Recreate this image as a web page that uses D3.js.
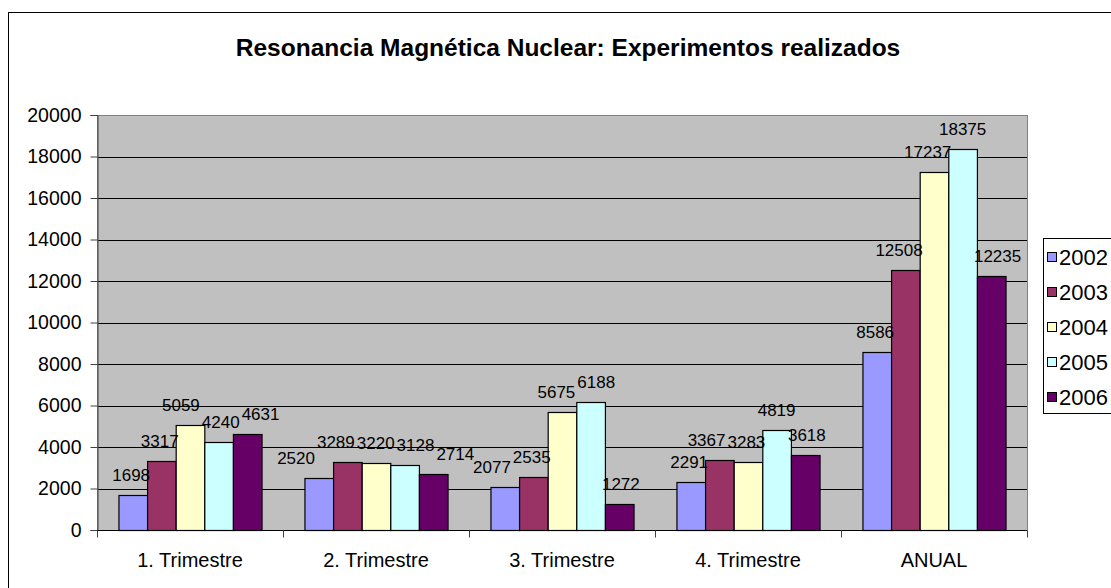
<!DOCTYPE html>
<html>
<head>
<meta charset="utf-8">
<script src="https://cdn.jsdelivr.net/npm/d3@7/dist/d3.min.js"></script>
<style>
  html, body { margin: 0; padding: 0; background: #fff; overflow: hidden; }
  svg { display: block; font-family: "Liberation Sans", Arial, sans-serif; }
</style>
</head>
<body>
<svg id="chart" width="1111" height="588"></svg>
<script>
const categories = ["1. Trimestre", "2. Trimestre", "3. Trimestre", "4. Trimestre", "ANUAL"];
const years = ["2002", "2003", "2004", "2005", "2006"];
const v2002 = [1698, 2520, 2077, 2291, 8586];
const v2003 = [3317, 3289, 2535, 3367, 12508];
const v2004 = [5059, 3220, 5675, 3283, 17237];
const v2005 = [4240, 3128, 6188, 4819, 18375];
const v2006 = [4631, 2714, 1272, 3618, 12235];
const yTicks = [0, 2000, 4000, 6000, 8000, 10000, 12000, 14000, 16000, 18000, 20000];
const colors = ["#9999FF", "#993366", "#FFFFCC", "#CCFFFF", "#660066"];
const titleText = "Resonancia Magnética Nuclear: Experimentos realizados";

const seriesValues = [v2002, v2003, v2004, v2005, v2006];
const data = categories.map((c, i) => ({
  cat: c,
  vals: years.map((y, j) => ({ year: y, value: seriesValues[j][i], color: colors[j] }))
}));

const svg = d3.select("#chart");

// outer chart border (extends beyond the window)
svg.append("rect").attr("x", 8.5).attr("y", 12.5).attr("width", 1300).attr("height", 800)
  .attr("fill", "#fff").attr("stroke", "#000").attr("stroke-width", 1);

const plot = { left: 97, right: 1027, top: 115, bottom: 530 };

const x = d3.scaleBand().domain(categories).range([plot.left, plot.right]).paddingInner(0).paddingOuter(0);
const xs = d3.scaleBand().domain(years).range([0, x.bandwidth()]).paddingInner(0).paddingOuter(0.75);
const y = d3.scaleLinear().domain([0, 20000]).range([plot.bottom, plot.top]);

// plot background
svg.append("rect")
  .attr("x", plot.left).attr("y", plot.top)
  .attr("width", plot.right - plot.left).attr("height", plot.bottom - plot.top)
  .attr("fill", "#C0C0C0");

// gridlines
svg.append("g").selectAll("line").data(yTicks.filter(t => t > 0 && t < 20000)).join("line")
  .attr("x1", plot.left).attr("x2", plot.right)
  .attr("y1", d => Math.round(y(d)) + 0.5).attr("y2", d => Math.round(y(d)) + 0.5)
  .attr("stroke", "#000").attr("stroke-width", 1);

// plot border
svg.append("rect")
  .attr("x", plot.left + 0.5).attr("y", plot.top + 0.5)
  .attr("width", plot.right - plot.left).attr("height", plot.bottom - plot.top)
  .attr("fill", "none").attr("stroke", "#808080").attr("stroke-width", 1);

// bars
const groups = svg.append("g").selectAll("g").data(data).join("g")
  .attr("transform", d => `translate(${x(d.cat)},0)`);

groups.selectAll("rect").data(d => d.vals).join("rect")
  .attr("x", d => xs(d.year) + 0.5)
  .attr("y", d => Math.round(y(d.value)) + 0.5)
  .attr("width", xs.bandwidth())
  .attr("height", d => plot.bottom - Math.round(y(d.value)))
  .attr("fill", d => d.color)
  .attr("stroke", "#000").attr("stroke-width", 1.2);

// data labels with simple collision avoidance (spread apart horizontally)
const labelOffset = 14, labelH = 17, labelGap = 2, barTol = 3;
groups.each(function(g) {
  const sel = d3.select(this).selectAll("text").data(g.vals).join("text")
    .attr("text-anchor", "middle")
    .attr("font-size", "17px")
    .attr("fill", "#000")
    .text(d => d.value);
  const boxes = [];
  sel.each(function(d) {
    boxes.push({ cx: xs(d.year) + xs.bandwidth() / 2, y: y(d.value) - labelOffset, w: this.getComputedTextLength() });
  });
  const bars = g.vals.map(d => ({ left: xs(d.year), right: xs(d.year) + xs.bandwidth(), top: y(d.value) }));
  for (let it = 0; it < 300; it++) {
    let moved = false;
    // keep labels off taller neighbouring bars
    boxes.forEach((b, i) => {
      const nxt = bars[i + 1], prv = bars[i - 1];
      if (nxt && nxt.top < b.y) {
        const over = (b.cx + b.w / 2) - (nxt.left + barTol);
        if (over > 0.01) { b.cx -= over; moved = true; }
      }
      if (prv && prv.top < b.y) {
        const over = (prv.right - barTol) - (b.cx - b.w / 2);
        if (over > 0.01) { b.cx += over; moved = true; }
      }
    });
    // keep labels off each other
    for (let i = 0; i < boxes.length; i++) {
      for (let j = i + 1; j < boxes.length; j++) {
        const a = boxes[i], b = boxes[j];
        if (Math.abs(a.y - b.y) >= labelH) continue;
        const need = (a.w + b.w) / 2 + labelGap;
        const dist = b.cx - a.cx;
        if (dist < need - 0.01) {
          const d = (need - dist) / 2;
          a.cx -= d; b.cx += d; moved = true;
        }
      }
    }
    if (!moved) break;
  }
  sel.attr("x", (d, i) => boxes[i].cx).attr("y", (d, i) => boxes[i].y);
});

// y axis
const yAxis = d3.axisLeft(y).tickValues(yTicks).tickSize(7).tickPadding(9).tickFormat(d3.format("d"));
const yg = svg.append("g").attr("transform", `translate(${plot.left + 0.5},0)`).call(yAxis);
yg.select(".domain").attr("stroke", "#404040");
yg.selectAll(".tick line").attr("stroke", "#404040");
yg.selectAll(".tick text").attr("font-size", "19.5px").attr("font-family", "Liberation Sans, Arial, sans-serif").attr("fill", "#000");

// x axis
const xg = svg.append("g").attr("transform", `translate(0,${plot.bottom + 0.5})`);
xg.append("line").attr("x1", plot.left).attr("x2", plot.right).attr("y1", 0).attr("y2", 0)
  .attr("stroke", "#000");
const boundaries = categories.map(c => x(c)).concat([x(categories[categories.length - 1]) + x.bandwidth()]);
xg.selectAll("line.tk").data(boundaries).join("line").attr("class", "tk")
  .attr("x1", d => Math.round(d) + 0.5).attr("x2", d => Math.round(d) + 0.5)
  .attr("y1", 0).attr("y2", 7).attr("stroke", "#404040");
xg.selectAll("text").data(categories).join("text")
  .attr("x", d => x(d) + x.bandwidth() / 2)
  .attr("y", 36)
  .attr("text-anchor", "middle")
  .attr("font-size", "20px")
  .attr("fill", "#000")
  .text(d => d);

// title
svg.append("text")
  .attr("x", 568).attr("y", 56)
  .attr("text-anchor", "middle")
  .attr("font-size", "24.5px")
  .attr("font-weight", "bold")
  .attr("fill", "#000")
  .text(titleText);

// legend
const lg = svg.append("g");
lg.append("rect").attr("x", 1043.5).attr("y", 238.5).attr("width", 200).attr("height", 175)
  .attr("fill", "#fff").attr("stroke", "#000");
const items = lg.selectAll("g.item").data(years).join("g").attr("class", "item")
  .attr("transform", (d, i) => `translate(1047,${257 + i * 35})`);
items.append("rect").attr("x", 0.5).attr("y", -4.5).attr("width", 9).attr("height", 9)
  .attr("fill", (d, i) => colors[i]).attr("stroke", "#000");
items.append("text").attr("x", 12).attr("y", 0).attr("dy", "0.35em")
  .attr("font-size", "22px").attr("fill", "#000").text(d => d);
</script>
</body>
</html>
